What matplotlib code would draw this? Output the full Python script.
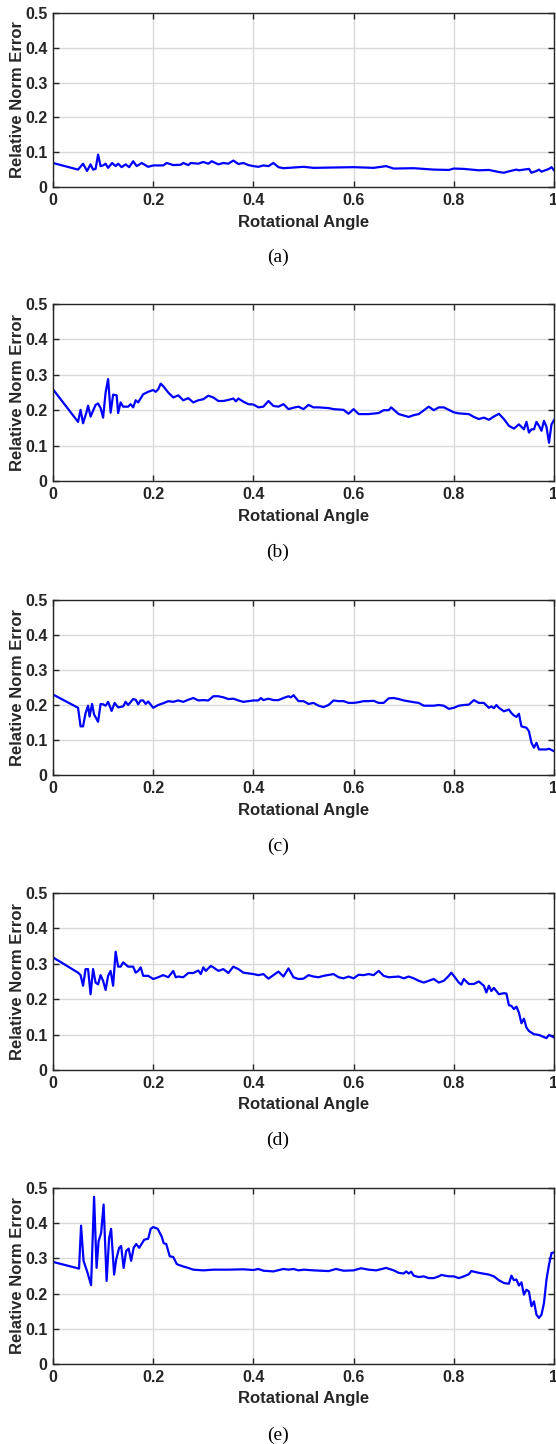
import matplotlib
matplotlib.use('Agg')
import matplotlib.pyplot as plt

# panel (a)
xa = [0, 0.05, 0.06, 0.068, 0.075, 0.08, 0.085, 0.09, 0.095, 0.10, 0.105, 0.11, 0.118, 0.125,
      0.13, 0.137, 0.145, 0.152, 0.16, 0.167, 0.177, 0.19, 0.2, 0.22, 0.227, 0.24, 0.255, 0.26,
      0.27, 0.275, 0.29, 0.30, 0.31, 0.317, 0.33, 0.34, 0.35, 0.36, 0.37, 0.38, 0.39, 0.40, 0.41,
      0.42, 0.43, 0.44, 0.45, 0.46, 0.5, 0.52, 0.6, 0.64, 0.665, 0.68, 0.72, 0.76, 0.79, 0.8,
      0.82, 0.85, 0.87, 0.89, 0.9, 0.91, 0.925, 0.93, 0.94, 0.95, 0.955, 0.965, 0.97, 0.975,
      0.99, 0.995, 1.0]
ya = [0.069, 0.050, 0.067, 0.046, 0.065, 0.050, 0.052, 0.093, 0.060, 0.062, 0.067, 0.055, 0.069,
      0.060, 0.067, 0.057, 0.065, 0.057, 0.074, 0.060, 0.069, 0.058, 0.062, 0.062, 0.069, 0.063,
      0.064, 0.069, 0.063, 0.069, 0.067, 0.072, 0.067, 0.074, 0.065, 0.069, 0.067, 0.076, 0.066,
      0.069, 0.063, 0.060, 0.058, 0.062, 0.060, 0.069, 0.057, 0.054, 0.058, 0.055, 0.057, 0.055,
      0.060, 0.053, 0.054, 0.050, 0.049, 0.053, 0.052, 0.048, 0.049, 0.043, 0.041, 0.045, 0.050,
      0.048, 0.050, 0.052, 0.041, 0.046, 0.050, 0.044, 0.052, 0.057, 0.048]

# panel (b)
xb = [0, 0.05, 0.055, 0.06, 0.067, 0.07, 0.075, 0.085, 0.09, 0.095, 0.1, 0.105, 0.11, 0.115,
      0.12, 0.127, 0.13, 0.135, 0.14, 0.15, 0.155, 0.16, 0.165, 0.17, 0.18, 0.19, 0.2, 0.205,
      0.21, 0.215, 0.22, 0.23, 0.24, 0.25, 0.26, 0.27, 0.28, 0.29, 0.3, 0.31, 0.32, 0.33, 0.34,
      0.35, 0.36, 0.365, 0.37, 0.38, 0.39, 0.40, 0.41, 0.42, 0.43, 0.44, 0.45, 0.46, 0.47, 0.48,
      0.49, 0.5, 0.51, 0.52, 0.53, 0.55, 0.56, 0.58, 0.59, 0.6, 0.61, 0.63, 0.65, 0.66, 0.67,
      0.675, 0.69, 0.71, 0.72, 0.73, 0.75, 0.76, 0.77, 0.78, 0.8, 0.81, 0.83, 0.84, 0.85, 0.86,
      0.87, 0.88, 0.89, 0.9, 0.91, 0.92, 0.93, 0.94, 0.945, 0.95, 0.955, 0.96, 0.965, 0.97,
      0.975, 0.98, 0.985, 0.99, 0.995, 1.0]
yb = [0.259, 0.167, 0.201, 0.163, 0.195, 0.213, 0.182, 0.215, 0.219, 0.206, 0.179, 0.250, 0.288,
      0.193, 0.244, 0.242, 0.192, 0.222, 0.210, 0.210, 0.217, 0.208, 0.228, 0.222, 0.245, 0.252,
      0.257, 0.252, 0.259, 0.275, 0.268, 0.250, 0.236, 0.242, 0.228, 0.234, 0.222, 0.228, 0.231,
      0.241, 0.236, 0.226, 0.226, 0.229, 0.233, 0.225, 0.233, 0.224, 0.217, 0.216, 0.208, 0.210,
      0.226, 0.212, 0.210, 0.217, 0.203, 0.207, 0.210, 0.203, 0.215, 0.208, 0.208, 0.206, 0.203,
      0.201, 0.190, 0.203, 0.189, 0.189, 0.192, 0.200, 0.200, 0.208, 0.189, 0.181, 0.186, 0.189,
      0.210, 0.200, 0.208, 0.208, 0.194, 0.191, 0.189, 0.181, 0.175, 0.179, 0.173, 0.182, 0.190,
      0.175, 0.156, 0.148, 0.160, 0.146, 0.167, 0.137, 0.146, 0.146, 0.167, 0.156, 0.142, 0.170,
      0.153, 0.108, 0.160, 0.172]

# panel (c)
xc = [0, 0.05, 0.055, 0.06, 0.065, 0.07, 0.073, 0.078, 0.082, 0.09, 0.095, 0.1, 0.105, 0.11,
      0.117, 0.123, 0.13, 0.14, 0.145, 0.15, 0.16, 0.165, 0.17, 0.175, 0.18, 0.185, 0.19, 0.2,
      0.21, 0.22, 0.23, 0.24, 0.25, 0.26, 0.27, 0.28, 0.29, 0.3, 0.31, 0.32, 0.33, 0.34, 0.35,
      0.36, 0.37, 0.38, 0.39, 0.4, 0.41, 0.415, 0.42, 0.43, 0.44, 0.45, 0.46, 0.47, 0.475, 0.48,
      0.49, 0.5, 0.51, 0.52, 0.53, 0.54, 0.55, 0.56, 0.57, 0.58, 0.59, 0.6, 0.61, 0.62, 0.63,
      0.64, 0.65, 0.66, 0.67, 0.68, 0.69, 0.7, 0.72, 0.73, 0.74, 0.76, 0.77, 0.78, 0.79, 0.8,
      0.81, 0.82, 0.83, 0.84, 0.85, 0.86, 0.87, 0.875, 0.88, 0.885, 0.89, 0.9, 0.91, 0.915, 0.92,
      0.925, 0.93, 0.935, 0.945, 0.95, 0.955, 0.96, 0.965, 0.97, 0.985, 0.99, 1.0]
yc = [0.230, 0.192, 0.139, 0.139, 0.177, 0.198, 0.167, 0.203, 0.173, 0.152, 0.203, 0.202, 0.198,
      0.209, 0.183, 0.206, 0.193, 0.196, 0.209, 0.200, 0.217, 0.215, 0.202, 0.213, 0.213, 0.203,
      0.210, 0.192, 0.200, 0.205, 0.211, 0.209, 0.213, 0.209, 0.215, 0.220, 0.213, 0.214, 0.213,
      0.225, 0.225, 0.222, 0.217, 0.218, 0.213, 0.209, 0.211, 0.213, 0.213, 0.220, 0.214, 0.218,
      0.214, 0.214, 0.220, 0.225, 0.222, 0.228, 0.211, 0.211, 0.203, 0.206, 0.198, 0.194, 0.200,
      0.213, 0.211, 0.211, 0.206, 0.206, 0.208, 0.211, 0.211, 0.212, 0.206, 0.206, 0.219, 0.220,
      0.217, 0.213, 0.208, 0.206, 0.198, 0.198, 0.200, 0.198, 0.189, 0.192, 0.198, 0.200, 0.201,
      0.214, 0.206, 0.206, 0.192, 0.196, 0.191, 0.200, 0.192, 0.182, 0.187, 0.177, 0.170, 0.166,
      0.175, 0.139, 0.135, 0.125, 0.092, 0.078, 0.092, 0.073, 0.073, 0.075, 0.068]

# panel (d)
xd = [0, 0.05, 0.055, 0.06, 0.065, 0.07, 0.075, 0.08, 0.085, 0.09, 0.095, 0.1, 0.105, 0.11,
      0.115, 0.12, 0.125, 0.13, 0.135, 0.14, 0.15, 0.16, 0.165, 0.17, 0.175, 0.18, 0.19, 0.2,
      0.21, 0.22, 0.23, 0.24, 0.245, 0.25, 0.26, 0.27, 0.28, 0.29, 0.295, 0.3, 0.305, 0.315,
      0.32, 0.33, 0.34, 0.35, 0.36, 0.37, 0.38, 0.39, 0.4, 0.41, 0.42, 0.43, 0.44, 0.45, 0.46,
      0.47, 0.48, 0.49, 0.5, 0.51, 0.52, 0.53, 0.54, 0.56, 0.57, 0.58, 0.59, 0.6, 0.61, 0.62,
      0.63, 0.64, 0.65, 0.66, 0.67, 0.69, 0.7, 0.71, 0.72, 0.73, 0.74, 0.75, 0.76, 0.77, 0.78,
      0.79, 0.795, 0.8, 0.81, 0.815, 0.82, 0.83, 0.84, 0.85, 0.86, 0.865, 0.87, 0.875, 0.88,
      0.89, 0.9, 0.905, 0.91, 0.915, 0.92, 0.925, 0.93, 0.935, 0.94, 0.945, 0.95, 0.96, 0.97,
      0.975, 0.985, 0.99, 1.0]
yd = [0.318, 0.275, 0.268, 0.238, 0.285, 0.285, 0.214, 0.285, 0.247, 0.242, 0.268, 0.252, 0.226,
      0.266, 0.280, 0.238, 0.334, 0.292, 0.292, 0.304, 0.292, 0.292, 0.275, 0.280, 0.290, 0.266,
      0.266, 0.257, 0.262, 0.268, 0.262, 0.280, 0.262, 0.264, 0.262, 0.274, 0.274, 0.281, 0.271,
      0.290, 0.280, 0.294, 0.290, 0.280, 0.285, 0.274, 0.292, 0.285, 0.275, 0.273, 0.271, 0.268,
      0.271, 0.258, 0.268, 0.278, 0.264, 0.287, 0.262, 0.257, 0.258, 0.268, 0.264, 0.262, 0.266,
      0.271, 0.262, 0.259, 0.264, 0.259, 0.269, 0.268, 0.271, 0.268, 0.280, 0.266, 0.262, 0.264,
      0.259, 0.264, 0.259, 0.252, 0.247, 0.252, 0.257, 0.247, 0.252, 0.266, 0.275, 0.266, 0.247,
      0.241, 0.257, 0.243, 0.243, 0.250, 0.238, 0.219, 0.238, 0.223, 0.232, 0.214, 0.217, 0.216,
      0.183, 0.181, 0.172, 0.179, 0.162, 0.132, 0.145, 0.120, 0.110, 0.101, 0.099, 0.096, 0.090,
      0.099, 0.092]

# panel (e)
xe = [0, 0.052, 0.056, 0.061, 0.069, 0.076, 0.082, 0.087, 0.091, 0.096, 0.101, 0.107, 0.112,
      0.116, 0.122, 0.126, 0.132, 0.136, 0.141, 0.146, 0.151, 0.156, 0.161, 0.166, 0.172, 0.182,
      0.19, 0.195, 0.2, 0.209, 0.217, 0.221, 0.226, 0.233, 0.24, 0.247, 0.25, 0.26, 0.27, 0.28,
      0.3, 0.32, 0.35, 0.38, 0.4, 0.41, 0.42, 0.44, 0.46, 0.47, 0.48, 0.49, 0.5, 0.52, 0.55,
      0.565, 0.58, 0.6, 0.615, 0.63, 0.645, 0.665, 0.68, 0.69, 0.7, 0.705, 0.71, 0.715, 0.72,
      0.73, 0.74, 0.75, 0.76, 0.77, 0.775, 0.79, 0.8, 0.81, 0.82, 0.83, 0.835, 0.85, 0.87, 0.88,
      0.89, 0.9, 0.91, 0.915, 0.92, 0.925, 0.93, 0.935, 0.94, 0.945, 0.95, 0.955, 0.96, 0.965,
      0.97, 0.975, 0.98, 0.985, 0.99, 0.995, 1.0]
ye = [0.290, 0.271, 0.393, 0.293, 0.259, 0.224, 0.475, 0.273, 0.349, 0.372, 0.453, 0.236, 0.358,
      0.384, 0.254, 0.296, 0.330, 0.335, 0.273, 0.321, 0.328, 0.293, 0.330, 0.341, 0.330, 0.353,
      0.356, 0.384, 0.389, 0.384, 0.362, 0.343, 0.341, 0.306, 0.304, 0.284, 0.282, 0.277, 0.273,
      0.268, 0.266, 0.268, 0.268, 0.269, 0.267, 0.270, 0.265, 0.263, 0.270, 0.268, 0.270, 0.266,
      0.268, 0.266, 0.264, 0.270, 0.265, 0.266, 0.272, 0.268, 0.266, 0.273, 0.266, 0.259, 0.257,
      0.263, 0.257, 0.262, 0.251, 0.247, 0.249, 0.244, 0.244, 0.249, 0.253, 0.249, 0.249, 0.244,
      0.249, 0.255, 0.264, 0.259, 0.254, 0.249, 0.238, 0.230, 0.228, 0.251, 0.238, 0.240, 0.223,
      0.232, 0.197, 0.211, 0.206, 0.164, 0.178, 0.140, 0.131, 0.140, 0.173, 0.240, 0.282, 0.315,
      0.317]

series = [(xa, ya), (xb, yb), (xc, yc), (xd, yd), (xe, ye)]
captions = ['(a)', '(b)', '(c)', '(d)', '(e)']

W, H = 556, 1444
# axes top / bottom in pixels
tops = [13, 304, 600, 893, 1188]
bottoms = [187, 481, 775, 1070, 1364]
cap_y = [257, 552, 846, 1140, 1435]

fig = plt.figure(figsize=(W / 100, H / 100), dpi=100)
sans = ['Liberation Sans', 'DejaVu Sans']

for (x, y), top, bot, cap, cy in zip(series, tops, bottoms, captions, cap_y):
    ax = fig.add_axes([53 / W, 1 - bot / H, 501 / W, (bot - top) / H])
    ax.plot(x, y, color='#0000ff', lw=1.6)
    ax.set_xlim(0, 1)
    ax.set_ylim(0, 0.5)
    ax.set_xticks([0, 0.2, 0.4, 0.6, 0.8, 1])
    ax.set_xticklabels(['0', '0.2', '0.4', '0.6', '0.8', '1'])
    ax.set_yticks([0, 0.1, 0.2, 0.3, 0.4, 0.5])
    ax.set_yticklabels(['0', '0.1', '0.2', '0.3', '0.4', '0.5'])
    ax.grid(True, color='#d9d9d9', lw=1.0)
    ax.set_axisbelow(True)
    ax.tick_params(direction='in', length=4, width=1, top=True, right=True,
                   labelsize=11.5, colors='#262626', pad=4)
    for lab in ax.get_xticklabels() + ax.get_yticklabels():
        lab.set_fontweight('bold')
        lab.set_family(sans)
    for s in ax.spines.values():
        s.set_color('#262626')
        s.set_linewidth(1.0)
    ax.set_xlabel('Rotational Angle', fontsize=12, fontweight='bold', family=sans,
                  color='#262626', labelpad=5)
    ax.set_ylabel('Relative Norm Error', fontsize=12, fontweight='bold', family=sans,
                  color='#262626', labelpad=0)
    fig.text(0.5, 1 - cy / H, cap, ha='center', va='center', fontsize=14,
             family=['Liberation Serif', 'DejaVu Serif'])

fig.savefig('out.png', dpi=100)
